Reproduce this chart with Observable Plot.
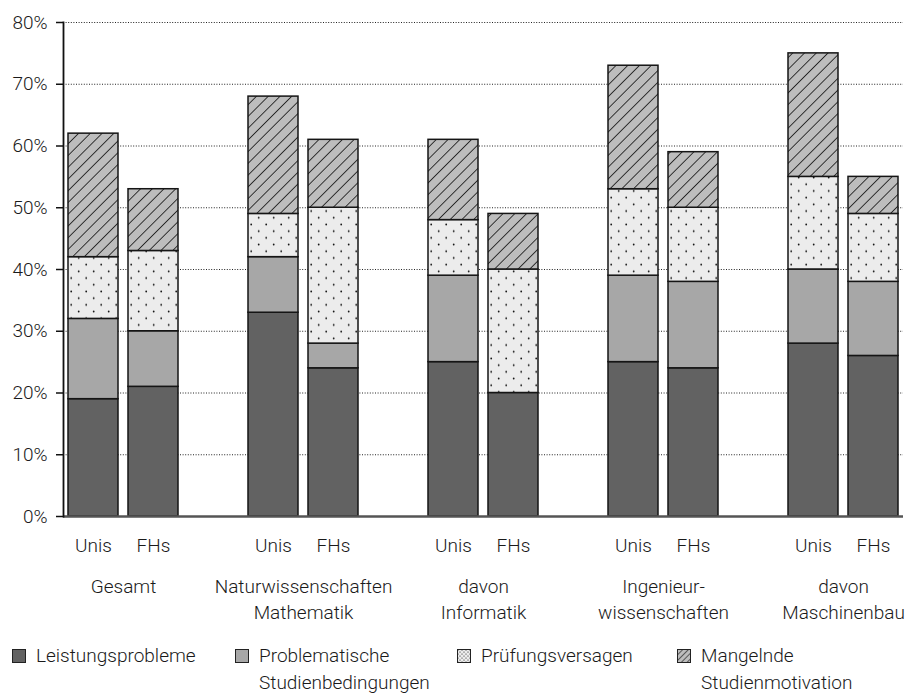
<!DOCTYPE html>
<html>
<head>
<meta charset="utf-8">
<script src="https://cdn.jsdelivr.net/npm/d3@7"></script>
<script src="https://cdn.jsdelivr.net/npm/@observablehq/plot@0.6"></script>
<style>
  html, body { margin: 0; padding: 0; background: #fff; }
  body { width: 906px; height: 693px; position: relative; overflow: hidden;
         font-family: Roboto, "Liberation Sans", sans-serif; font-weight: 300; color: #1a1a1a; }
  #legend { position: absolute; left: 0; top: 642px; width: 906px; height: 60px; }
  .item { position: absolute; top: 0; display: flex; align-items: flex-start; font-size: 19px; line-height: 27px; }
  .item svg { margin-top: 7px; margin-right: 10px; flex: none; }
</style>
</head>
<body>
<svg width="0" height="0" style="position:absolute">
  <defs>
    <pattern id="dots" patternUnits="userSpaceOnUse" width="15" height="13.4">
      <rect width="15" height="13.4" fill="#ececec"></rect>
      <circle cx="3.7" cy="3.3" r="0.9" fill="#111"></circle>
      <circle cx="11.2" cy="10" r="0.9" fill="#111"></circle>
    </pattern>
    <pattern id="hatch" patternUnits="userSpaceOnUse" width="8.3" height="8.3" patternTransform="rotate(45)">
      <rect width="8.3" height="8.3" fill="#bdbdbd"></rect>
      <line x1="0" y1="0" x2="0" y2="8.3" stroke="#111" stroke-width="1.6"></line>
    </pattern>
    <pattern id="dotsS" patternUnits="userSpaceOnUse" width="4" height="4">
      <rect width="4" height="4" fill="#ececec"></rect>
      <circle cx="1" cy="1" r="0.6" fill="#111"></circle>
      <circle cx="3" cy="3" r="0.6" fill="#111"></circle>
    </pattern>
    <pattern id="hatchS" patternUnits="userSpaceOnUse" width="4" height="4" patternTransform="rotate(45)">
      <rect width="4" height="4" fill="#bdbdbd"></rect>
      <line x1="0" y1="0" x2="0" y2="4" stroke="#111" stroke-width="1.2"></line>
    </pattern>
  </defs>
</svg>
<div id="chart"></div>
<div id="legend"></div>
<script>
// ---- data ----
const groups = ["Gesamt", "Naturwissenschaften\nMathematik", "davon\nInformatik", "Ingenieur-\nwissenschaften", "davon\nMaschinenbau"];
const types = ["Unis", "FHs"];
const causes = ["Leistungsprobleme", "Problematische Studienbedingungen", "Prüfungsversagen", "Mangelnde Studienmotivation"];
const legendLabels = ["Leistungsprobleme", "Problematische\nStudienbedingungen", "Prüfungsversagen", "Mangelnde\nStudienmotivation"];
// values per bar: Gesamt U/F, Naturw. U/F, Informatik U/F, Ingenieurw. U/F, Maschinenbau U/F
const leistungsprobleme = [19, 21, 33, 24, 25, 20, 25, 24, 28, 26];
const studienbedingungen = [13, 9, 9, 4, 14, 0, 14, 14, 12, 12];
const pruefungsversagen = [10, 13, 7, 22, 9, 20, 14, 12, 15, 11];
const studienmotivation = [20, 10, 19, 11, 13, 9, 20, 9, 20, 6];
const yTicks = [0, 10, 20, 30, 40, 50, 60, 70, 80];

// ---- styles ----
const fills = ["#626262", "#a7a7a7", "url(#dots)", "url(#hatch)"];
const legendFills = ["#626262", "#a7a7a7", "url(#dotsS)", "url(#hatchS)"];
const W = 906, H = 630, mL = 63, mR = 3, mT = 22, mB = 114;

// ---- build table ----
const series = [leistungsprobleme, studienbedingungen, pruefungsversagen, studienmotivation];
const slots = [];
const barSlots = [];
groups.forEach((g, gi) => {
  types.forEach(t => { slots.push(gi + "|" + t); barSlots.push(gi + "|" + t); });
  if (gi < groups.length - 1) slots.push(gi + "|gap");
});
const rows = [];
causes.forEach((c, ci) => {
  barSlots.forEach((s, bi) => rows.push({slot: s, cause: c, value: series[ci][bi]}));
});
const groupRows = groups.map((g, gi) => ({slot: gi + "|FHs", label: g}));
const step = (W - mL - mR) / slots.length;

const chart = Plot.plot({
  width: W, height: H,
  marginLeft: mL, marginRight: mR, marginTop: mT, marginBottom: mB,
  style: {fontFamily: "Roboto, 'Liberation Sans', sans-serif", fontSize: "19px", fontWeight: 300, color: "#1a1a1a", background: "transparent"},
  x: {domain: slots, paddingInner: 1/6, paddingOuter: 1/12, axis: null, label: null},
  y: {domain: [0, 80], axis: null, label: null},
  color: {domain: causes, range: fills},
  marks: [
    Plot.ruleY(yTicks.filter(d => d > 0), {stroke: "#222", strokeWidth: 1, strokeDasharray: "1,1.6"}),
    Plot.barY(rows, Plot.stackY({x: "slot", y: "value", fill: "cause", stroke: "#151515", strokeWidth: 1.5})),
    Plot.ruleY([0], {stroke: "#555", strokeWidth: 2.5}),
    Plot.axisY({ticks: yTicks, tickFormat: d => d + "%", tickSize: 7, tickPadding: 9, fontSize: 19, stroke: "#111", strokeWidth: 1.5, label: null}),
    Plot.frame({anchor: "left", stroke: "#111", strokeWidth: 1.8}),
    Plot.axisX({ticks: barSlots, tickFormat: d => d.split("|")[1], tickSize: 0, tickPadding: 22, fontSize: 19, label: null}),
    Plot.text(groupRows, {x: "slot", text: "label", frameAnchor: "bottom", lineAnchor: "top", dy: 59, dx: -step / 2, lineHeight: 1.33, fontSize: 19, fill: "#1a1a1a"})
  ]
});
document.getElementById("chart").appendChild(chart);

// ---- legend ----
const legendX = [12, 235, 457, 677];
const legend = d3.select("#legend");
causes.forEach((c, i) => {
  const item = legend.append("div").attr("class", "item").style("left", legendX[i] + "px");
  const sw = item.append("svg").attr("width", 14).attr("height", 14);
  sw.append("rect").attr("x", 0.5).attr("y", 0.5).attr("width", 13).attr("height", 13)
    .attr("fill", legendFills[i]).attr("stroke", "#222").attr("stroke-width", 1);
  item.append("div").html(legendLabels[i].replace("\n", "<br>"));
});
</script>
</body>
</html>
